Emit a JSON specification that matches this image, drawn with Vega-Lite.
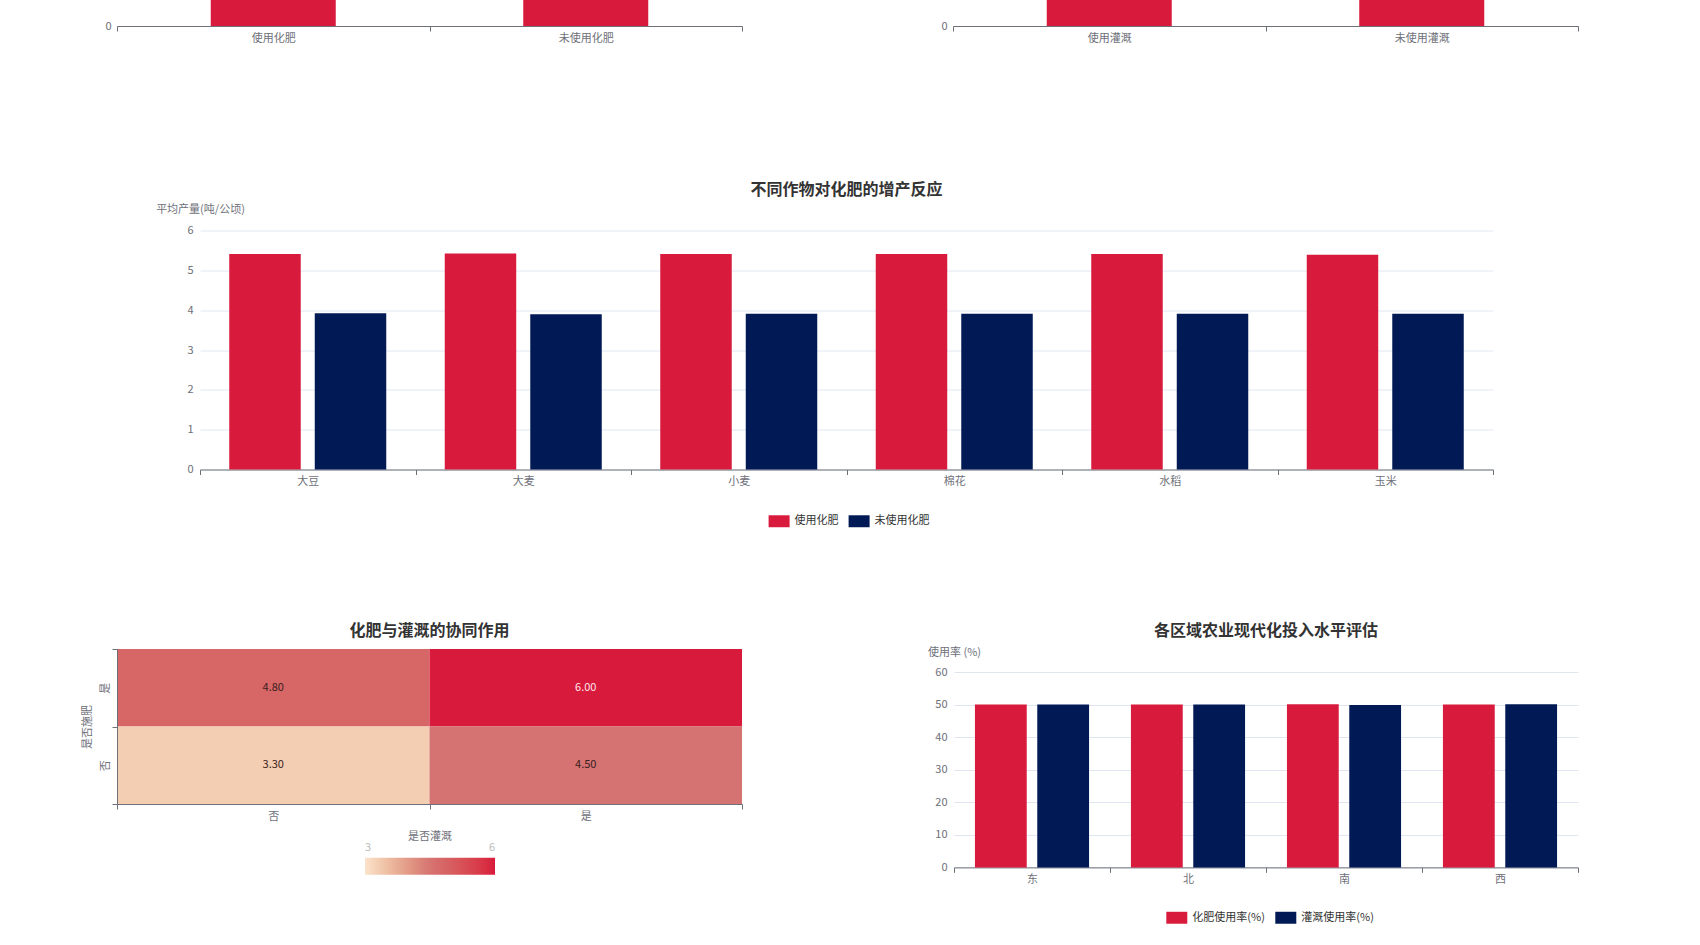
{
  "$schema": "https://vega.github.io/schema/vega-lite/v6.json",
  "background": "white",
  "padding": {"left": 79, "top": 0, "right": 10, "bottom": 10},
  "config": {
    "font": "Noto Sans CJK SC",
    "view": {"stroke": null},
    "title": {"fontSize": 16, "fontWeight": "bold", "color": "#333333", "anchor": "middle"},
    "axis": {
      "labelColor": "#6e7079", "labelFontSize": 11, "titleColor": "#6e7079", "titleFontSize": 11,
      "titleFontWeight": "normal", "domainColor": "#6e7079", "tickColor": "#6e7079", "gridColor": "#e0e6f1"
    },
    "legend": {"labelColor": "#333333", "labelFontSize": 11}
  },
  "columns": 1,
  "spacing": 138.5,
  "resolve": {"scale": {"color": "independent", "xOffset": "independent"}},
  "concat": [
    {
      "columns": 2,
      "spacing": 180,
      "concat": [
        {
          "width": 625, "height": 26,
          "data": {"values": [
            {"group": "使用化肥", "yield": 5.41},
            {"group": "未使用化肥", "yield": 3.91}
          ]},
          "mark": {"type": "bar", "clip": true, "color": "#d81b3c", "width": {"band": 0.4}},
          "encoding": {
            "x": {"field": "group", "type": "nominal", "sort": ["使用化肥", "未使用化肥"],
                  "scale": {"paddingInner": 0, "paddingOuter": 0},
                  "axis": {"title": null, "labelAngle": 0, "tickBand": "extent", "tickSize": 5, "labelPadding": 1}},
            "y": {"field": "yield", "type": "quantitative", "scale": {"domain": [0, 0.5]},
                  "axis": {"title": null, "values": [0], "format": "d", "grid": false, "domain": false, "ticks": false, "tickSize": 0, "labelPadding": 6, "minExtent": 38}}
          }
        },
        {
          "width": 625, "height": 26,
          "data": {"values": [
            {"group": "使用灌溉", "yield": 5.2},
            {"group": "未使用灌溉", "yield": 4.1}
          ]},
          "mark": {"type": "bar", "clip": true, "color": "#d81b3c", "width": {"band": 0.4}},
          "encoding": {
            "x": {"field": "group", "type": "nominal", "sort": ["使用灌溉", "未使用灌溉"],
                  "scale": {"paddingInner": 0, "paddingOuter": 0},
                  "axis": {"title": null, "labelAngle": 0, "tickBand": "extent", "tickSize": 5, "labelPadding": 1}},
            "y": {"field": "yield", "type": "quantitative", "scale": {"domain": [0, 0.5]},
                  "axis": {"title": null, "values": [0], "format": "d", "grid": false, "domain": false, "ticks": false, "tickSize": 0, "labelPadding": 6, "minExtent": 30}}
          }
        }
      ]
    },
    {
      "columns": 1,
      "spacing": 94.5,
      "resolve": {"scale": {"color": "independent", "xOffset": "independent"}},
      "concat": [
        {
          "columns": 2,
          "spacing": 0,
          "resolve": {"scale": {"color": "independent", "xOffset": "independent"}},
          "concat": [
            {
              "width": 23, "height": 1,
              "data": {"values": []},
              "mark": {"type": "point"},
              "encoding": {}
            },
            {
              "width": 1293, "height": 239,
              "title": {"text": "不同作物对化肥的增产反应", "offset": 5.5},
              "data": {"values": [
                {"crop": "大豆", "group": "使用化肥", "yield": 5.41},
                {"crop": "大豆", "group": "未使用化肥", "yield": 3.92},
                {"crop": "大麦", "group": "使用化肥", "yield": 5.42},
                {"crop": "大麦", "group": "未使用化肥", "yield": 3.90},
                {"crop": "小麦", "group": "使用化肥", "yield": 5.41},
                {"crop": "小麦", "group": "未使用化肥", "yield": 3.91},
                {"crop": "棉花", "group": "使用化肥", "yield": 5.41},
                {"crop": "棉花", "group": "未使用化肥", "yield": 3.91},
                {"crop": "水稻", "group": "使用化肥", "yield": 5.41},
                {"crop": "水稻", "group": "未使用化肥", "yield": 3.91},
                {"crop": "玉米", "group": "使用化肥", "yield": 5.39},
                {"crop": "玉米", "group": "未使用化肥", "yield": 3.91}
              ]},
              "mark": {"type": "bar"},
              "encoding": {
                "x": {"field": "crop", "type": "nominal", "sort": ["大豆", "大麦", "小麦", "棉花", "水稻", "玉米"],
                      "scale": {"paddingInner": 0, "paddingOuter": 0},
                      "axis": {"title": null, "labelAngle": 0, "tickBand": "extent", "tickSize": 5, "labelPadding": 1}},
                "xOffset": {"field": "group", "type": "nominal", "sort": ["使用化肥", "未使用化肥"],
                      "scale": {"paddingInner": 0.164, "paddingOuter": 0.342}},
                "y": {"field": "yield", "type": "quantitative", "scale": {"domain": [0, 6]},
                      "axis": {"title": "平均产量(吨/公顷)", "titleAngle": 0, "titleX": 0, "titleY": -21, "titleAlign": "center", "titleBaseline": "middle",
                               "values": [0, 1, 2, 3, 4, 5, 6], "domain": false, "ticks": false, "tickSize": 0, "labelPadding": 7, "minExtent": 60}},
                "color": {"field": "group", "type": "nominal", "sort": ["使用化肥", "未使用化肥"],
                      "scale": {"domain": ["使用化肥", "未使用化肥"], "range": ["#d81b3c", "#011a56"]},
                      "legend": {"orient": "none", "legendX": 568.6, "legendY": 280, "direction": "horizontal", "title": null,
                                 "symbolType": "M-1,-0.57H1V0.57H-1Z", "symbolSize": 441, "symbolStrokeWidth": 0, "symbolOpacity": 1,
                                 "columnPadding": 10, "labelOffset": 5, "padding": 0}}
              }
            }
          ]
        },
        {
          "columns": 2,
          "spacing": 181,
          "resolve": {"scale": {"color": "independent", "xOffset": "independent"}},
          "concat": [
            {
              "columns": 1,
              "spacing": 0,
              "resolve": {"scale": {"color": "independent", "xOffset": "independent"}},
              "concat": [
                {
                  "width": 1, "height": 1,
                  "data": {"values": []},
                  "mark": {"type": "point"},
                  "encoding": {}
                },
                {
                  "width": 625, "height": 155,
                  "title": {"text": "化肥与灌溉的协同作用", "offset": 9.5},
                  "data": {"values": [
                    {"irrigation": "否", "fertilizer": "是", "yield": 4.8},
                    {"irrigation": "是", "fertilizer": "是", "yield": 6.0},
                    {"irrigation": "否", "fertilizer": "否", "yield": 3.3},
                    {"irrigation": "是", "fertilizer": "否", "yield": 4.5}
                  ]},
                  "encoding": {
                    "x": {"field": "irrigation", "type": "nominal", "sort": ["否", "是"],
                          "scale": {"paddingInner": 0, "paddingOuter": 0},
                          "axis": {"title": "是否灌溉", "labelAngle": 0, "tickBand": "extent", "tickSize": 5, "labelPadding": 1, "titlePadding": 9}},
                    "y": {"field": "fertilizer", "type": "nominal", "sort": ["是", "否"],
                          "scale": {"paddingInner": 0, "paddingOuter": 0},
                          "axis": {"title": "是否施肥", "labelAngle": -90, "tickBand": "extent", "tickSize": 5, "labelPadding": 2, "titlePadding": 7}}
                  },
                  "layer": [
                    {
                      "mark": {"type": "rect"},
                      "encoding": {
                        "color": {"field": "yield", "type": "quantitative",
                                  "scale": {"type": "linear", "domain": [3, 4.5, 6], "range": ["#fbe3cb", "#d57372", "#d81a3c"]},
                                  "legend": {"orient": "none", "legendX": 248, "legendY": 208.7, "direction": "horizontal", "title": null,
                                             "gradientLength": 130, "gradientThickness": 17, "gradientStrokeWidth": 0,
                                             "values": [3, 6], "labelOffset": -33, "labelColor": "#bbbbbb", "labelFontSize": 11, "padding": 0}}
                      }
                    },
                    {
                      "mark": {"type": "text", "fontSize": 11},
                      "encoding": {
                        "text": {"field": "yield", "type": "quantitative", "format": ".2f"},
                        "color": {"condition": {"test": "datum.yield >= 5.5", "value": "#ffe6ea"}, "value": "#3a2020"}
                      }
                    }
                  ]
                }
              ]
            },
            {
              "columns": 1,
              "spacing": 0,
              "resolve": {"scale": {"color": "independent", "xOffset": "independent"}},
              "concat": [
                {
                  "width": 1, "height": 1,
                  "data": {"values": []},
                  "mark": {"type": "point"},
                  "encoding": {}
                },
                {
                  "width": 624, "height": 195.4,
                  "title": {"text": "各区域农业现代化投入水平评估", "offset": 7.3},
                  "data": {"values": [
                    {"region": "东", "metric": "化肥使用率(%)", "rate": 50.0},
                    {"region": "东", "metric": "灌溉使用率(%)", "rate": 50.0},
                    {"region": "北", "metric": "化肥使用率(%)", "rate": 50.0},
                    {"region": "北", "metric": "灌溉使用率(%)", "rate": 50.0},
                    {"region": "南", "metric": "化肥使用率(%)", "rate": 50.1},
                    {"region": "南", "metric": "灌溉使用率(%)", "rate": 49.9},
                    {"region": "西", "metric": "化肥使用率(%)", "rate": 50.0},
                    {"region": "西", "metric": "灌溉使用率(%)", "rate": 50.1}
                  ]},
                  "mark": {"type": "bar"},
                  "encoding": {
                    "x": {"field": "region", "type": "nominal", "sort": ["东", "北", "南", "西"],
                          "scale": {"paddingInner": 0, "paddingOuter": 0},
                          "axis": {"title": null, "labelAngle": 0, "tickBand": "extent", "tickSize": 5, "labelPadding": 1}},
                    "xOffset": {"field": "metric", "type": "nominal", "sort": ["化肥使用率(%)", "灌溉使用率(%)"],
                          "scale": {"paddingInner": 0.169, "paddingOuter": 0.336}},
                    "y": {"field": "rate", "type": "quantitative", "scale": {"domain": [0, 60]},
                          "axis": {"title": "使用率 (%)", "titleAngle": 0, "titleX": 0, "titleY": -19.6, "titleAlign": "center", "titleBaseline": "middle",
                                   "values": [0, 10, 20, 30, 40, 50, 60], "domain": false, "ticks": false, "tickSize": 0, "labelPadding": 7, "minExtent": 30}},
                    "color": {"field": "metric", "type": "nominal", "sort": ["化肥使用率(%)", "灌溉使用率(%)"],
                          "scale": {"domain": ["化肥使用率(%)", "灌溉使用率(%)"], "range": ["#d81b3c", "#011a56"]},
                          "legend": {"orient": "none", "legendX": 212.3, "legendY": 235, "direction": "horizontal", "title": null,
                                     "symbolType": "M-1,-0.57H1V0.57H-1Z", "symbolSize": 441, "symbolStrokeWidth": 0, "symbolOpacity": 1,
                                     "columnPadding": 10, "labelOffset": 5, "padding": 0}}
                  }
                }
              ]
            }
          ]
        }
      ]
    }
  ]
}
